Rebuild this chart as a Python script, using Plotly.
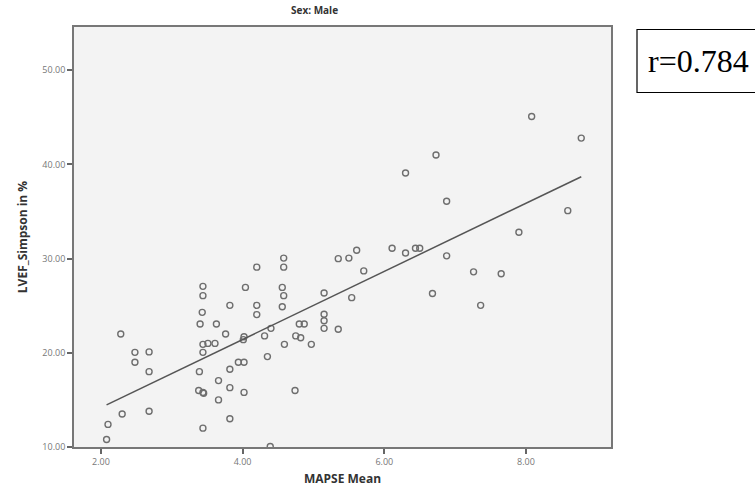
import numpy as np
import plotly.graph_objects as go

mapse = [2.08, 2.10, 2.30, 2.28, 2.48, 2.48, 2.68, 2.68, 2.68,
         3.44, 3.44, 3.43, 3.40, 3.44, 3.51, 3.61, 3.44, 3.39, 3.38, 3.44, 3.45, 3.44,
         3.63, 3.76, 3.82, 3.66, 3.66, 3.82, 3.82, 3.82,
         3.94, 4.02, 4.02, 4.01, 4.02, 4.04,
         4.20, 4.20, 4.20, 4.31, 4.35, 4.40, 4.39,
         4.58, 4.58, 4.56, 4.58, 4.56, 4.59, 4.74, 4.75, 4.82, 4.80, 4.87, 4.97,
         5.15, 5.15, 5.15, 5.15, 5.35, 5.35, 5.50, 5.61, 5.71, 5.54,
         6.11, 6.30, 6.44, 6.50, 6.88, 7.26, 7.65, 6.68, 7.36,
         8.08, 8.78, 6.73, 6.30, 6.88, 8.59, 7.90]
lvef = [10.8, 12.4, 13.5, 22.0, 20.05, 19.0, 20.1, 18.0, 13.8,
        27.06, 26.07, 24.3, 23.06, 20.9, 21.0, 21.0, 20.05, 18.0, 16.0, 15.8, 15.7, 12.0,
        23.06, 22.0, 25.04, 17.05, 15.0, 18.25, 16.3, 13.0,
        19.0, 19.0, 21.7, 21.4, 15.8, 26.95,
        29.1, 25.04, 24.06, 21.8, 19.6, 22.6, 10.05,
        30.06, 29.1, 26.95, 26.07, 24.9, 20.9, 16.0, 21.8, 21.6, 23.06, 23.06, 20.9,
        26.35, 24.1, 23.4, 22.6, 22.5, 30.0, 30.06, 30.9, 28.7, 25.86,
        31.1, 30.6, 31.1, 31.1, 30.3, 28.6, 28.4, 26.3, 25.04,
        45.1, 42.8, 41.0, 39.1, 36.1, 35.1, 32.8]

x_ticks = [2, 4, 6, 8]
y_ticks = [10, 20, 30, 40, 50]
title_text = "Sex: Male"
x_title = "MAPSE Mean"
y_title = "LVEF_Simpson in %"
r_text = "r=0.784"

xa = np.array(mapse)
ya = np.array(lvef)
slope, intercept = np.polyfit(xa, ya, 1)
fx = np.array([xa.min(), xa.max()])
fy = intercept + slope * fx

fig = go.Figure()
fig.add_trace(go.Scatter(x=mapse, y=lvef, mode="markers",
                         marker=dict(symbol="circle-open", size=6, color="#6e6e6e",
                                     line=dict(width=1.4, color="#6e6e6e")),
                         showlegend=False, hoverinfo="skip"))
fig.add_trace(go.Scatter(x=fx, y=fy, mode="lines",
                         line=dict(color="#555555", width=1.5),
                         showlegend=False, hoverinfo="skip"))

L, R, T, B = 74, 144, 27, 48
W, H = 755, 495
pw, ph = W - L - R, H - T - B

def px(xp):
    return (xp - L) / pw

def py(yp):
    return (H - B - yp) / ph

fig.update_layout(
    width=W, height=H,
    margin=dict(l=L, r=R, t=T, b=B),
    paper_bgcolor="white",
    plot_bgcolor="#f3f3f3",
    font=dict(family="Open Sans, Arial, sans-serif", color="#333"),
    xaxis=dict(range=[1.62, 9.2], tickvals=x_ticks,
               ticktext=[f"{v:.2f}" for v in x_ticks],
               showgrid=False, zeroline=False,
               ticks="outside", ticklen=5, tickcolor="#666", tickwidth=1.5,
               showline=True, linecolor="#777", linewidth=1.8, mirror=True,
               tickfont=dict(size=9, color="#777"),
               title=dict(text=f"<b>{x_title}</b>", font=dict(size=12, color="#333"), standoff=8)),
    yaxis=dict(range=[10, 54.6], tickvals=y_ticks,
               ticktext=[f"{v:.2f}" for v in y_ticks],
               showgrid=False, zeroline=False,
               ticks="outside", ticklen=5, tickcolor="#666", tickwidth=1.5,
               showline=True, linecolor="#777", linewidth=1.8, mirror=True,
               tickfont=dict(size=9, color="#777"),
               title=dict(text=f"<b>{y_title}</b>", font=dict(size=12, color="#333"), standoff=12)),
)
fig.add_annotation(text=f"<b>{title_text}</b>", xref="paper", yref="paper",
                   x=px(314), y=py(10), showarrow=False,
                   font=dict(size=10, color="#333"), xanchor="center", yanchor="middle")
fig.add_shape(type="rect", xref="paper", yref="paper",
              x0=px(637), x1=px(757), y0=py(92.5), y1=py(29.5),
              line=dict(color="black", width=1.2), fillcolor="white")
fig.add_annotation(text=r_text, xref="paper", yref="paper",
                   x=px(646), y=py(61), showarrow=False, xanchor="left", yanchor="middle",
                   font=dict(family="Liberation Serif, Times New Roman, serif", size=32, color="black"))

fig.write_html("out.html")
